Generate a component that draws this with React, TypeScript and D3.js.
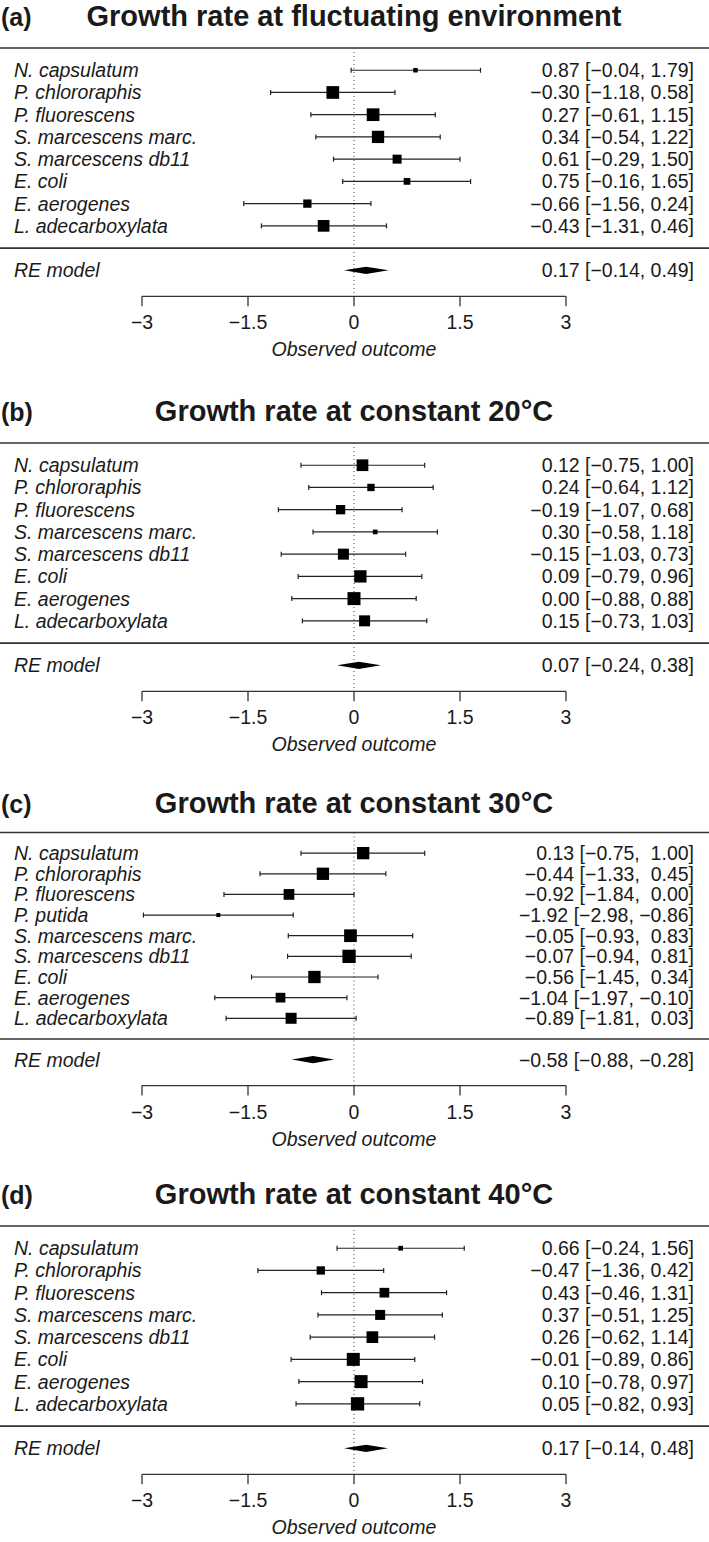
import React from "react";
import * as d3 from "d3";

// ---------- DATA ----------
const speciesStd = [
  "N. capsulatum",
  "P. chlororaphis",
  "P. fluorescens",
  "S. marcescens marc.",
  "S. marcescens db11",
  "E. coli",
  "E. aerogenes",
  "L. adecarboxylata",
];
const speciesC = [
  "N. capsulatum",
  "P. chlororaphis",
  "P. fluorescens",
  "P. putida",
  "S. marcescens marc.",
  "S. marcescens db11",
  "E. coli",
  "E. aerogenes",
  "L. adecarboxylata",
];

const estA = [0.87, -0.30, 0.27, 0.34, 0.61, 0.75, -0.66, -0.43];
const lowA = [-0.04, -1.18, -0.61, -0.54, -0.29, -0.16, -1.56, -1.31];
const highA = [1.79, 0.58, 1.15, 1.22, 1.50, 1.65, 0.24, 0.46];
const weightA = [4.5, 12.7, 12.7, 12.3, 9, 6.7, 8.3, 11.7];
const reA = [0.17, -0.14, 0.49];

const estB = [0.12, 0.24, -0.19, 0.30, -0.15, 0.09, 0.00, 0.15];
const lowB = [-0.75, -0.64, -1.07, -0.58, -1.03, -0.79, -0.88, -0.73];
const highB = [1.00, 1.12, 0.68, 1.18, 0.73, 0.96, 0.88, 1.03];
const weightB = [11.7, 7.3, 9.3, 4.7, 11, 12.3, 13, 11];
const reB = [0.07, -0.24, 0.38];

const estC = [0.13, -0.44, -0.92, -1.92, -0.05, -0.07, -0.56, -1.04, -0.89];
const lowC = [-0.75, -1.33, -1.84, -2.98, -0.93, -0.94, -1.45, -1.97, -1.81];
const highC = [1.00, 0.45, 0.00, -0.86, 0.83, 0.81, 0.34, -0.10, 0.03];
const weightC = [12.3, 12.3, 10.7, 4, 12.7, 13.3, 12.3, 9.7, 11];
const reC = [-0.58, -0.88, -0.28];

const estD = [0.66, -0.47, 0.43, 0.37, 0.26, -0.01, 0.10, 0.05];
const lowD = [-0.24, -1.36, -0.46, -0.51, -0.62, -0.89, -0.78, -0.82];
const highD = [1.56, 0.42, 1.31, 1.25, 1.14, 0.86, 0.97, 0.93];
const weightD = [4.7, 8.3, 9.7, 10, 11.7, 13, 13, 13.3];
const reD = [0.17, -0.14, 0.48];

const tickValues = [-3, -1.5, 0, 1.5, 3];
const tickLabels = ["\u22123", "\u22121.5", "0", "1.5", "3"];

const panels = [
  { tag: "(a)", title: "Growth rate at fluctuating environment", species: speciesStd, est: estA, low: lowA, high: highA, w: weightA, re: reA, top: 48 },
  { tag: "(b)", title: "Growth rate at constant 20\u00B0C", species: speciesStd, est: estB, low: lowB, high: highB, w: weightB, re: reB, top: 443 },
  { tag: "(c)", title: "Growth rate at constant 30\u00B0C", species: speciesC, est: estC, low: lowC, high: highC, w: weightC, re: reC, top: 832.5 },
  { tag: "(d)", title: "Growth rate at constant 40\u00B0C", species: speciesStd, est: estD, low: lowD, high: highD, w: weightD, re: reD, top: 1226 },
];

// ---------- HELPERS ----------
const fmt = (v: number) => {
  const s = Math.abs(v).toFixed(2);
  return v < 0 ? "\u2212" + s : s;
};
const padCol = (vals: number[]) => {
  const anyNeg = vals.some((v) => v < 0);
  return vals.map((v) => (anyNeg && v >= 0 ? " " : "") + fmt(v));
};

const FONT = "'Liberation Sans', Arial, Helvetica, sans-serif";
const INK = "#1a1a1a";
const FS = 19.5;
const PLOT_H = 289;

const x = d3.scaleLinear().domain([-3, 3]).range([142, 566]);

function Panel({ p }: { p: any }) {
  const k = p.species.length;
  const rh = PLOT_H / (k + 5);
  const span = (k + 2) * rh;
  const y = d3.scaleLinear().domain([0, k + 2]).range([p.top, p.top + span]);
  const rowY = (i: number) => y(i + 1);
  const bottomRule = y(k + 1);
  const reY = y(k + 2);
  const axisY = reY + 26;
  const lows = padCol([...p.low, p.re[1]]);
  const highs = padCol([...p.high, p.re[2]]);
  const label = (i: number, e: number) => `${fmt(e)} [${lows[i]}, ${highs[i]}]`;
  const dh = 3.6;
  const diamond = d3.line()([
    [x(p.re[1]), reY],
    [x(p.re[0]), reY - dh],
    [x(p.re[2]), reY],
    [x(p.re[0]), reY + dh],
  ] as any) + "Z";
  const titleY = p.top - 2 * rh + 22;

  return (
    <g>
      <text x={1} y={titleY} fontFamily={FONT} fontWeight="bold" fontSize={25} fill={INK}>{p.tag}</text>
      <text x={354} y={titleY} textAnchor="middle" fontFamily={FONT} fontWeight="bold" fontSize={29} fill={INK}>{p.title}</text>
      <line x1={0} x2={709} y1={p.top} y2={p.top} stroke="#333" strokeWidth={1.6} />
      <line x1={0} x2={709} y1={bottomRule} y2={bottomRule} stroke="#333" strokeWidth={1.6} />
      <line x1={x(0)} x2={x(0)} y1={p.top} y2={axisY} stroke="#444" strokeWidth={1} strokeDasharray="1 3" />
      {p.species.map((s: string, i: number) => {
        const yy = rowY(i);
        const half = p.w[i] / 2;
        return (
          <g key={s}>
            <text x={14} y={yy} dominantBaseline="central" fontFamily={FONT} fontStyle="italic" fontSize={FS} fill={INK}>{s}</text>
            <line x1={x(p.low[i])} x2={x(p.high[i])} y1={yy} y2={yy} stroke="#222" strokeWidth={1.2} />
            <line x1={x(p.low[i])} x2={x(p.low[i])} y1={yy - 2.5} y2={yy + 2.5} stroke="#222" strokeWidth={1.2} />
            <line x1={x(p.high[i])} x2={x(p.high[i])} y1={yy - 2.5} y2={yy + 2.5} stroke="#222" strokeWidth={1.2} />
            <rect x={x(p.est[i]) - half} y={yy - half} width={half * 2} height={half * 2} fill="#000" />
            <text x={694} y={yy} dominantBaseline="central" textAnchor="end" fontFamily={FONT} fontSize={FS} fill={INK} style={{ whiteSpace: "pre" }}>{label(i, p.est[i])}</text>
          </g>
        );
      })}
      <text x={14} y={reY} dominantBaseline="central" fontFamily={FONT} fontStyle="italic" fontSize={FS} fill={INK}>RE model</text>
      <path d={diamond} fill="#000" />
      <text x={694} y={reY} dominantBaseline="central" textAnchor="end" fontFamily={FONT} fontSize={FS} fill={INK} style={{ whiteSpace: "pre" }}>{label(k, p.re[0])}</text>
      <line x1={x(-3)} x2={x(3)} y1={axisY} y2={axisY} stroke="#333" strokeWidth={1.3} />
      {tickValues.map((t, i) => (
        <g key={t}>
          <line x1={x(t)} x2={x(t)} y1={axisY} y2={axisY + 10} stroke="#333" strokeWidth={1.3} />
          <text x={x(t)} y={axisY + 26} dominantBaseline="central" textAnchor="middle" fontFamily={FONT} fontSize={FS} fill={INK}>{tickLabels[i]}</text>
        </g>
      ))}
      <text x={x(0)} y={axisY + 53} dominantBaseline="central" textAnchor="middle" fontFamily={FONT} fontStyle="italic" fontSize={FS} fill={INK}>Observed outcome</text>
    </g>
  );
}

export default function App() {
  return (
    <svg width={709} height={1542} style={{ position: "absolute", left: 0, top: 0, background: "#fff" }}>
      <rect width={709} height={1542} fill="#fff" />
      {panels.map((p) => (
        <Panel key={p.tag} p={p} />
      ))}
    </svg>
  );
}
